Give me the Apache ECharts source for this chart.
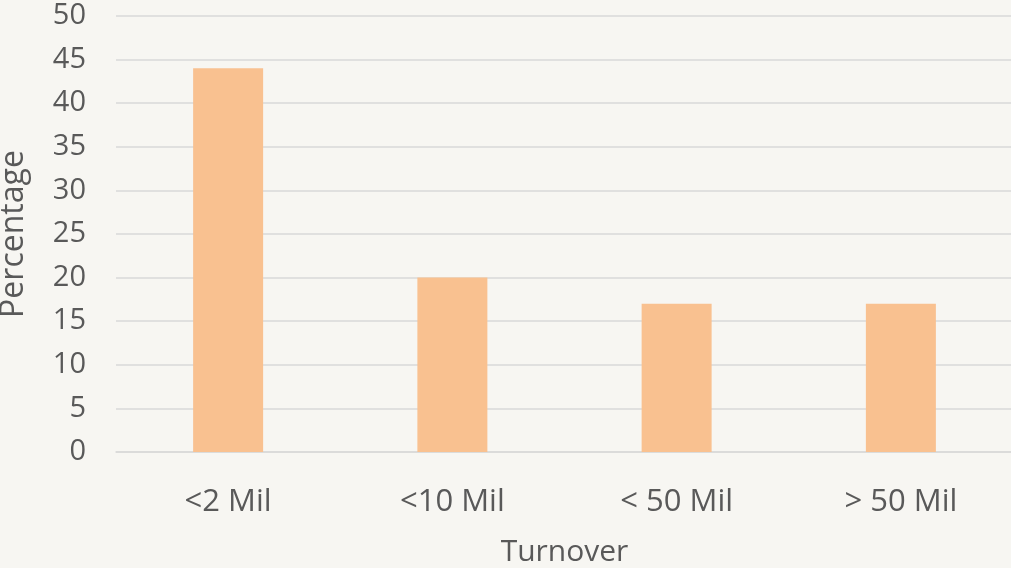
<!DOCTYPE html>
<html>
<head>
<meta charset="utf-8">
<script src="https://cdn.jsdelivr.net/npm/echarts@6/dist/echarts.min.js"></script>
<style>
  html, body { margin: 0; padding: 0; background: #f7f6f2; }
  #chart { width: 1011px; height: 568px; }
</style>
</head>
<body>
<div id="chart"></div>
<script>
// data
var categories = ['<2 Mil', '<10 Mil', '< 50 Mil', '> 50 Mil'];
var percentages = [44, 20, 17, 17];
var yTicks = [0, 5, 10, 15, 20, 25, 30, 35, 40, 45, 50];

var myChart = echarts.init(document.getElementById('chart'));
var fontFam = '"Open Sans", "Noto Sans", sans-serif';
var option = {
  backgroundColor: '#f7f6f2',
  animation: false,
  grid: {
    left: 116,
    right: -2,
    top: 16,
    bottom: 116,
    containLabel: false,
    outerBoundsMode: 'none'
  },
  xAxis: {
    type: 'category',
    data: categories,
    name: 'Turnover',
    nameLocation: 'middle',
    nameGap: 85,
    nameTextStyle: { fontFamily: fontFam, fontSize: 30, color: '#595959' },
    axisLine: { lineStyle: { color: '#d9d9d9', width: 1.5 } },
    axisTick: { show: false },
    axisLabel: { fontFamily: fontFam, fontSize: 31, color: '#595959', margin: 35 }
  },
  yAxis: {
    type: 'value',
    min: yTicks[0],
    max: yTicks[yTicks.length - 1],
    interval: 5,
    name: 'Percentage',
    nameLocation: 'middle',
    nameGap: 86,
    nameTextStyle: { fontFamily: fontFam, fontSize: 32, color: '#595959' },
    axisLine: { show: false },
    axisTick: { show: false },
    axisLabel: { fontFamily: fontFam, fontSize: 29, color: '#595959', margin: 30 },
    splitLine: { lineStyle: { color: '#d9d9d9', width: 1.5 } }
  },
  series: [
    {
      type: 'bar',
      data: percentages,
      barWidth: 70,
      itemStyle: { color: '#f9c190' }
    }
  ]
};
myChart.setOption(option);
</script>
</body>
</html>
